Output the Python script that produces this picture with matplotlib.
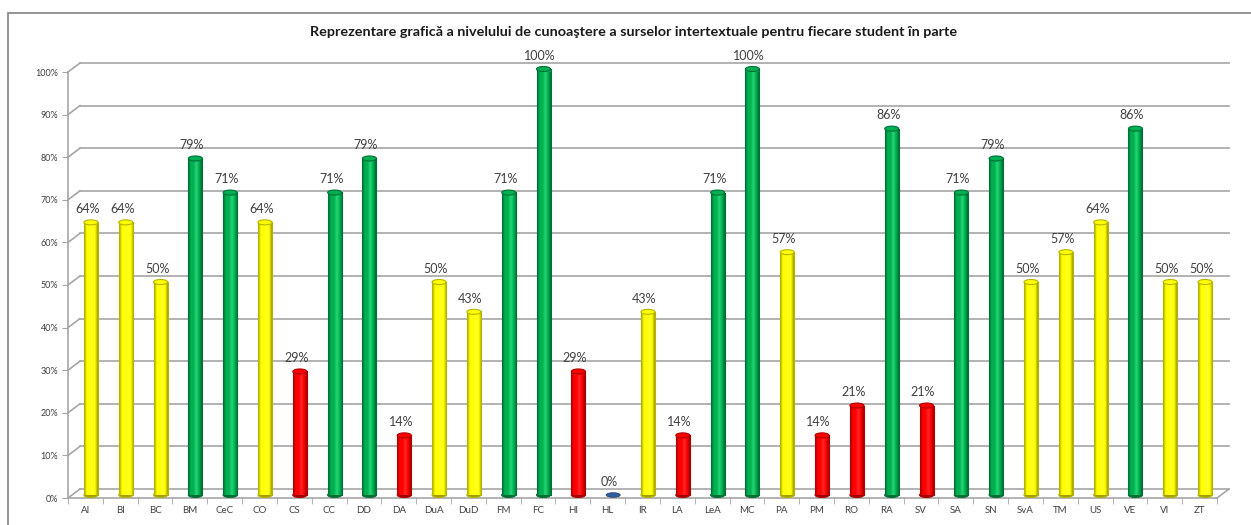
import matplotlib
matplotlib.use("Agg")
import matplotlib.pyplot as plt
import numpy as np
from matplotlib.patches import Ellipse, Rectangle
from matplotlib.colors import LinearSegmentedColormap, to_rgb

categories = ["AI", "BI", "BC", "BM", "CeC", "CO", "CS", "CC", "DD", "DA", "DuA", "DuD",
              "FM", "FC", "HI", "HL", "IR", "LA", "LeA", "MC", "PA", "PM", "RO", "RA",
              "SV", "SA", "SN", "SvA", "TM", "US", "VE", "VI", "ZT"]
values = [64, 64, 50, 79, 71, 64, 29, 71, 79, 14, 50, 43,
          71, 100, 29, 0, 43, 14, 71, 100, 57, 14, 21, 86,
          21, 71, 79, 50, 57, 64, 86, 50, 50]
groups = ["Y", "Y", "Y", "G", "G", "Y", "R", "G", "G", "R", "Y", "Y",
          "G", "G", "R", "B", "Y", "R", "G", "G", "Y", "R", "R", "G",
          "R", "G", "G", "Y", "Y", "Y", "G", "Y", "Y"]
yticks = [0, 10, 20, 30, 40, 50, 60, 70, 80, 90, 100]
title = "Reprezentare grafică a nivelului de cunoaştere a surselor intertextuale pentru fiecare student în parte"

palette = {"Y": ("#FFFF00", "#B5B500"), "G": ("#00B050", "#00703A"),
           "R": ("#FF0000", "#B00000"), "B": ("#2F5D9E", "#1F3F70")}

plt.rcParams['font.family'] = ['Lato', 'DejaVu Sans']

W, H = 1251, 525
fig = plt.figure(figsize=(W / 100, H / 100), dpi=100)
fig.patch.set_facecolor("white")

# outer chart border
fig.add_artist(Rectangle((8 / W, -0.05), 1.2, (H - 13) / H + 0.05, transform=fig.transFigure,
                         fill=False, edgecolor="#8C8C8C", lw=1.3))

ax_l, ax_r, ax_b, ax_t = 68, 1217, 498, 72
ax = fig.add_axes([ax_l / W, (H - ax_b) / H, (ax_r - ax_l) / W, (ax_b - ax_t) / H])
n = len(categories)
ax.set_facecolor("none")
for s in ax.spines.values():
    s.set_visible(False)

pxx = n / (ax_r - ax_l)
pxy = 100 / (ax_b - ax_t)
dX, dY = 12 * pxx, 9 * pxy   # 3-D depth offset
grid_c = "#A6A6A6"

# back wall gridlines + left diagonals
for t in yticks:
    ax.plot([dX, n + dX], [t + dY, t + dY], color=grid_c, lw=1.2, clip_on=False, zorder=1)
    ax.plot([0, dX], [t, t + dY], color=grid_c, lw=1.2, clip_on=False, zorder=1)
# front floor line, right diagonal, left axis
ax.plot([0, n], [0, 0], color=grid_c, lw=1.2, clip_on=False, zorder=1)
ax.plot([n, n + dX], [0, dY], color=grid_c, lw=1.2, clip_on=False, zorder=1)
ax.plot([0, 0], [0, 100], color=grid_c, lw=1.2, clip_on=False, zorder=1)

bw = 14 * pxx
eh = 5 * pxy
off_x = 5.5 * pxx
base = 3 * pxy

for i, (v, g) in enumerate(zip(values, groups)):
    face, edge = palette[g]
    cx = i + 0.5 + off_x
    if v > 0:
        rect = Rectangle((cx - bw / 2, base), bw, v, facecolor=face, edgecolor="none",
                         zorder=3, clip_on=False)
        ax.add_patch(rect)
        frgb = np.array(to_rgb(face))
        dark = tuple(frgb * 0.62)
        light = tuple(np.clip(frgb + 0.15, 0, 1))
        cmap = LinearSegmentedColormap.from_list("c", [dark, face, face, light, face, dark])
        grad = np.linspace(0, 1, 64).reshape(1, -1)
        im = ax.imshow(grad, extent=(cx - bw / 2, cx + bw / 2, base, base + v), cmap=cmap,
                       aspect="auto", zorder=3.1)
        im.set_clip_path(rect)
        im.set_clip_box(None)
        ax.plot([cx - bw / 2, cx - bw / 2], [base, base + v], color=edge, lw=0.8, zorder=3.2,
                clip_on=False)
        ax.plot([cx + bw / 2, cx + bw / 2], [base, base + v], color=edge, lw=0.8, zorder=3.2,
                clip_on=False)
        ax.add_patch(Ellipse((cx, base), bw, eh, facecolor=dark, edgecolor=edge, lw=0.8,
                             zorder=2.9, clip_on=False))
        ax.add_patch(Ellipse((cx, base + v), bw, eh, facecolor=face, edgecolor=edge, lw=0.8,
                             zorder=3.3, clip_on=False))
    else:
        ax.add_patch(Ellipse((cx, base), bw, eh * 0.9, facecolor=face, edgecolor=edge, lw=0.6,
                             zorder=3.3, clip_on=False))
    ax.annotate(f"{v}%", (i + 0.5 + 2 * pxx, v + base), xytext=(0, 9.5), textcoords="offset points",
                ha="center", va="center", fontsize=9, color="#404040", zorder=5,
                annotation_clip=False)

ax.set_xlim(0, n)
ax.set_ylim(0, 100)
ax.set_yticks(yticks)
ax.set_yticklabels([f"{t}%" for t in yticks], fontsize=6.5, color="#404040")
ax.set_xticks(np.arange(n) + 0.5)
ax.set_xticklabels(categories, fontsize=7, color="#404040")
ax.set_xticks(np.arange(n + 1), minor=True)
ax.tick_params(axis="y", length=4, color=grid_c, pad=3)
ax.tick_params(axis="x", which="major", length=0, pad=6)
ax.tick_params(axis="x", which="minor", length=4, color=grid_c)

fig.text(634 / W, 1 - 32 / H, title, ha="center", va="center", fontsize=10.4, fontweight="bold",
         color="#1A1A1A")

fig.savefig("out.png", dpi=100, facecolor="white")
